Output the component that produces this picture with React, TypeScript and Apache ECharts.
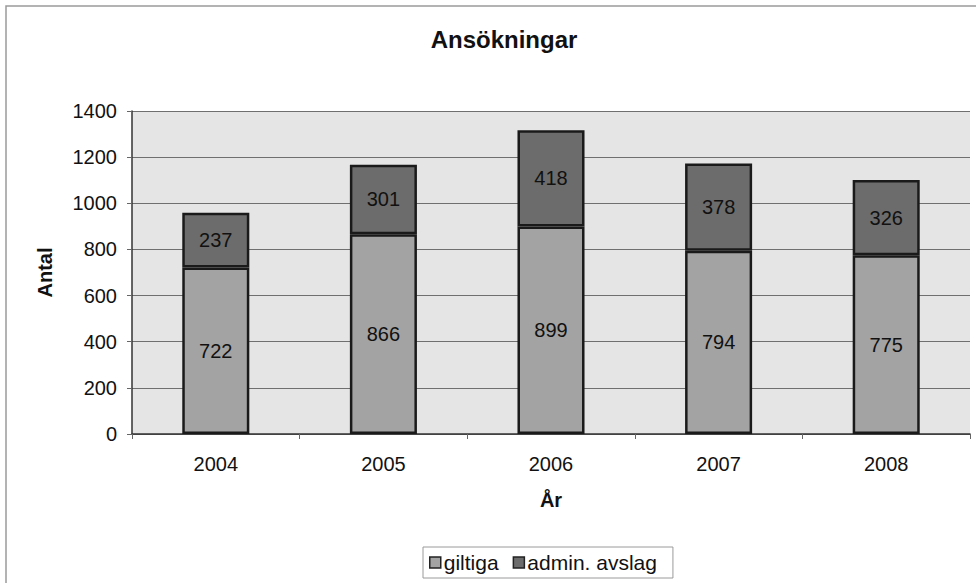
import React, { useEffect, useRef } from "react";
import * as echarts from "echarts";

const years = ["2004", "2005", "2006", "2007", "2008"];
const giltiga = [722, 866, 899, 794, 775];
const avslag = [237, 301, 418, 378, 326];
const seriesNames = ["giltiga", "admin. avslag"];

const FONT = "Liberation Sans, Arial, sans-serif";

export default function App() {
  const ref = useRef<HTMLDivElement>(null);
  useEffect(() => {
    if (!ref.current) return;
    const chart = echarts.init(ref.current, undefined, { renderer: "svg" });
    const label = {
      show: true,
      position: "inside",
      color: "#111",
      fontSize: 20,
      fontFamily: FONT,
    };
    chart.setOption({
      animation: false,
      backgroundColor: "#ffffff",
      textStyle: { fontFamily: FONT },
      title: {
        text: "Ansökningar",
        left: 499,
        textAlign: "center",
        top: 22,
        textStyle: { fontSize: 24, fontWeight: "bold", color: "#111", fontFamily: FONT },
      },
      graphic: [
        {
          type: "rect",
          shape: { x: 6, y: 6, width: 976, height: 590 },
          style: { fill: "none", stroke: "#9a9a9a", lineWidth: 1.5 },
          silent: true,
        },
      ],
      legend: {
        data: seriesNames,
        left: 423,
        top: 547,
        itemWidth: 11,
        itemHeight: 11,
        itemGap: 14,
        padding: [5, 16, 5, 6],
        borderColor: "#9a9a9a",
        borderWidth: 1,
        icon: "rect",
        itemStyle: { borderColor: "#222", borderWidth: 1.5 },
        textStyle: { fontSize: 21, color: "#111", fontFamily: FONT, padding: [0, 0, 0, -2] },
      },
      grid: {
        left: 132,
        right: 6,
        top: 111,
        bottom: 149,
        show: true,
        backgroundColor: "#e5e5e5",
        borderWidth: 0,
      },
      xAxis: {
        type: "category",
        data: years,
        name: "År",
        nameLocation: "middle",
        nameGap: 56,
        nameTextStyle: { fontSize: 20, fontWeight: "bold", color: "#111", fontFamily: FONT },
        axisLine: { lineStyle: { color: "#333", width: 1.5 } },
        axisTick: { show: true, length: 5, lineStyle: { color: "#666" } },
        axisLabel: { fontSize: 20, color: "#111", margin: 20, fontFamily: FONT },
      },
      yAxis: {
        type: "value",
        min: 0,
        max: 1400,
        interval: 200,
        name: "Antal",
        nameLocation: "middle",
        nameGap: 77,
        nameTextStyle: { fontSize: 20, fontWeight: "bold", color: "#111", fontFamily: FONT },
        axisLine: { show: true, lineStyle: { color: "#333", width: 1.5 } },
        axisTick: { show: true, length: 5, lineStyle: { color: "#666" } },
        axisLabel: {
          fontSize: 20,
          color: "#111",
          margin: 15,
          fontFamily: FONT,
          formatter: (v: number) => String(v),
        },
        splitLine: { show: true, lineStyle: { color: "#6f6f6f", width: 1 } },
      },
      series: [
        {
          name: seriesNames[0],
          type: "bar",
          stack: "total",
          data: giltiga,
          barWidth: "40%",
          itemStyle: { color: "#a3a3a3", borderColor: "#1a1a1a", borderWidth: 2.5 },
          label,
        },
        {
          name: seriesNames[1],
          type: "bar",
          stack: "total",
          data: avslag,
          barWidth: "40%",
          itemStyle: { color: "#6c6c6c", borderColor: "#1a1a1a", borderWidth: 2.5 },
          label,
        },
      ],
    });
    return () => chart.dispose();
  }, []);
  return (
    <div
      ref={ref}
      style={{ position: "absolute", left: 0, top: 0, width: 976, height: 583 }}
    />
  );
}
